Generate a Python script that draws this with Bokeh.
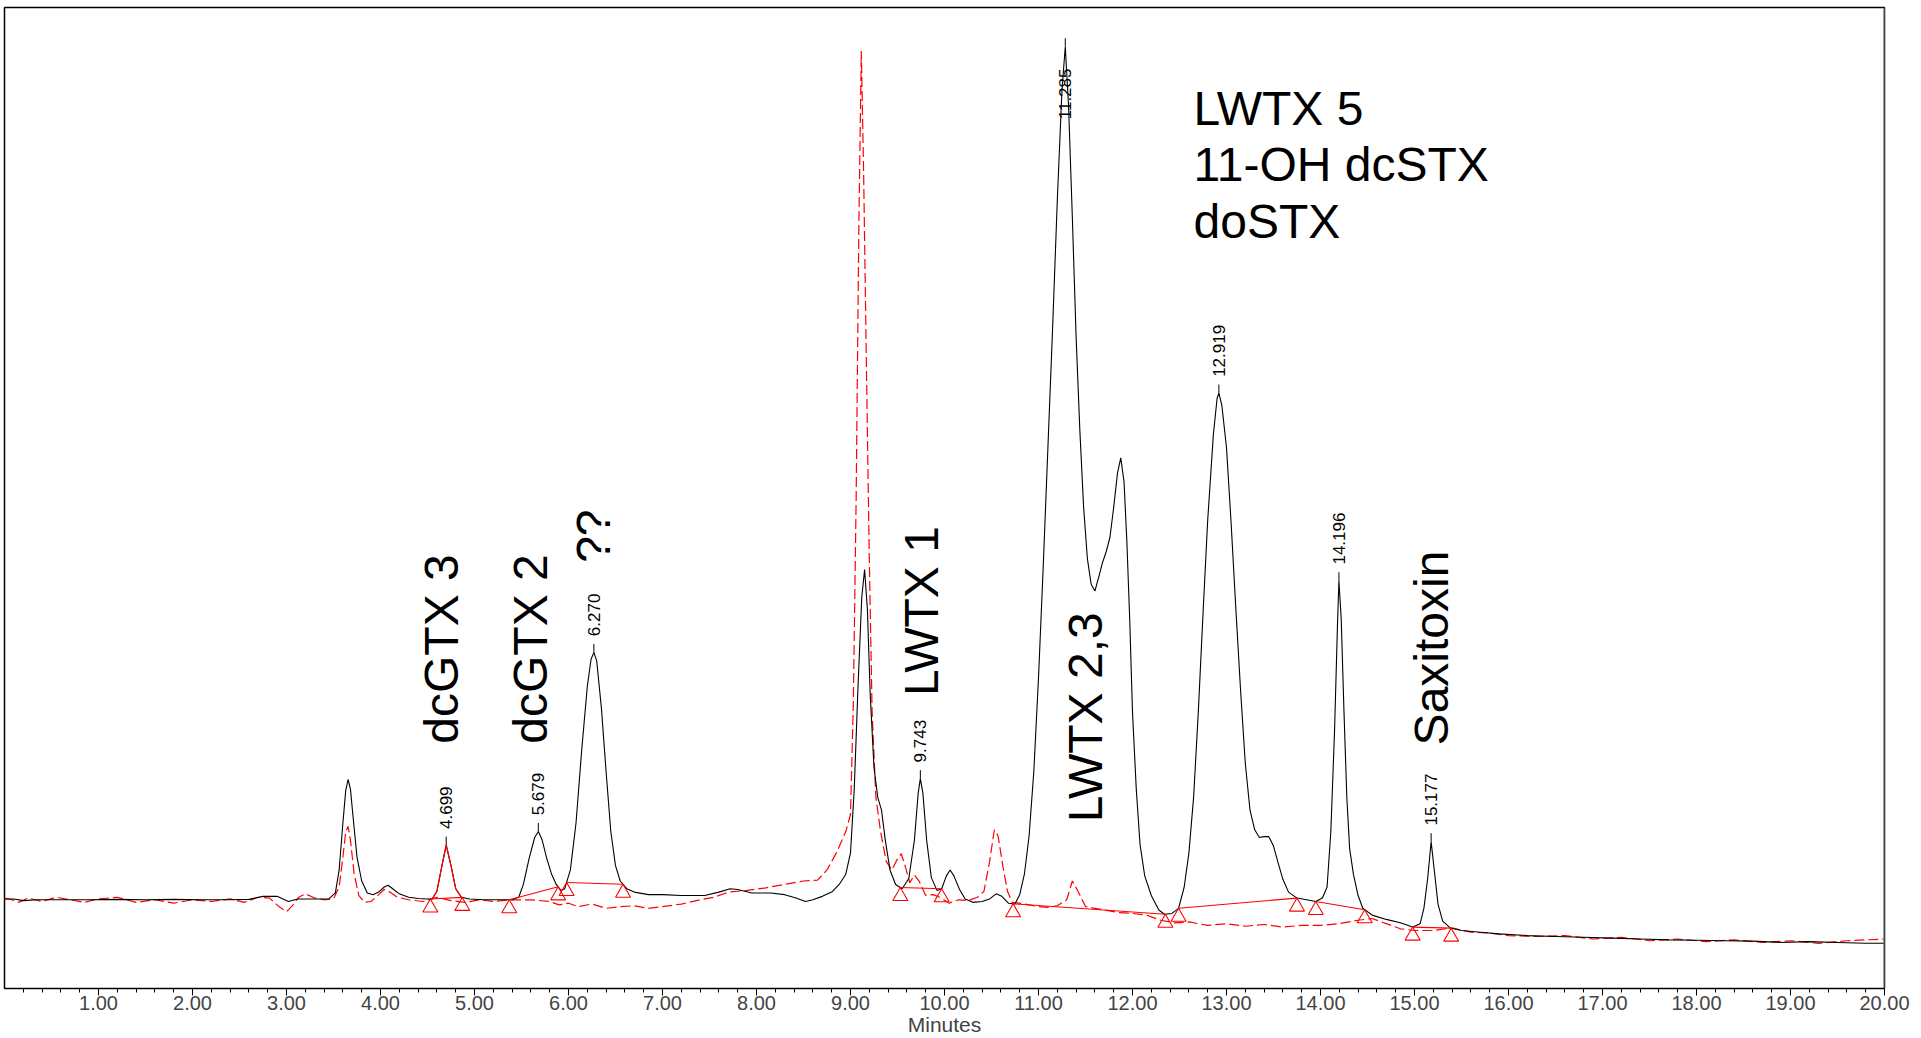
import math
import numpy as np
from bokeh.plotting import figure
from bokeh.models import Range1d, FixedTicker, PrintfTickFormatter, Span
from bokeh.core.properties import value
from bokeh.embed import file_html
from bokeh.resources import INLINE

# ---------------------------------------------------------------- data
# sample chromatogram (fluorescence response, arbitrary units) vs minutes
sample_time = [
    0.00, 0.10, 0.20, 0.35, 0.60, 0.90, 1.20, 1.50, 1.80, 2.10, 2.40, 2.60,
    2.75, 2.90, 3.02, 3.12, 3.30, 3.45, 3.52, 3.56, 3.60, 3.63, 3.655, 3.68,
    3.71, 3.75, 3.80, 3.86, 3.92, 3.98, 4.04, 4.08, 4.13, 4.20, 4.30, 4.40,
    4.50, 4.55, 4.60, 4.65, 4.699, 4.75, 4.80, 4.86, 4.95, 5.10, 5.25, 5.40,
    5.47, 5.52, 5.58, 5.64, 5.679, 5.72, 5.77, 5.82, 5.87, 5.92, 5.96, 6.02,
    6.08, 6.14, 6.20, 6.24, 6.270, 6.30, 6.35, 6.40, 6.45, 6.50, 6.55, 6.62,
    6.70, 6.85, 7.00, 7.20, 7.45, 7.60, 7.72, 7.80, 7.95, 8.15, 8.30, 8.42,
    8.52, 8.60, 8.70, 8.80, 8.88, 8.95, 9.00, 9.04, 9.08, 9.12, 9.15, 9.18,
    9.21, 9.25, 9.29, 9.33, 9.37, 9.42, 9.48, 9.55, 9.62, 9.68, 9.72, 9.743,
    9.77, 9.81, 9.86, 9.92, 9.97, 10.02, 10.06, 10.10, 10.16, 10.22, 10.30,
    10.40, 10.48, 10.55, 10.61, 10.68, 10.75, 10.80, 10.85, 10.90, 10.95,
    11.00, 11.05, 11.10, 11.15, 11.20, 11.25, 11.285, 11.32, 11.36, 11.40,
    11.44, 11.48, 11.52, 11.56, 11.60, 11.64, 11.68, 11.72, 11.76, 11.80,
    11.84, 11.875, 11.91, 11.94, 11.97, 12.00, 12.04, 12.08, 12.13, 12.20,
    12.28, 12.34, 12.42, 12.49, 12.55, 12.60, 12.65, 12.70, 12.75, 12.80,
    12.86, 12.90, 12.919, 12.95, 13.00, 13.05, 13.10, 13.15, 13.20, 13.25,
    13.30, 13.35, 13.40, 13.45, 13.50, 13.55, 13.60, 13.66, 13.75, 13.85,
    13.95, 14.02, 14.07, 14.11, 14.15, 14.18, 14.196, 14.22, 14.25, 14.28,
    14.31, 14.35, 14.40, 14.45, 14.55, 14.70, 14.85, 14.98, 15.06, 15.10,
    15.14, 15.177, 15.21, 15.25, 15.30, 15.38, 15.50, 15.70, 15.90, 16.20,
    16.50, 16.80, 17.10, 17.40, 17.70, 18.00, 18.30, 18.60, 18.90, 19.20,
    19.50, 19.80, 20.00,
]
sample_signal = [
    0.1, 0.1, -0.1, 0.0, 0.0, 0.0, 0.05, 0.0, 0.05, 0.0, 0.0, 0.05,
    0.4, 0.4, -0.2, 0.1, 0.1, 0.1, 0.8, 3.5, 9.0, 12.8, 14.1, 13.0,
    9.5, 5.0, 2.2, 0.8, 0.6, 0.9, 1.5, 1.7, 1.3, 0.7, 0.3, 0.15,
    0.1, 0.1, 1.0, 3.8, 6.4, 4.0, 1.3, 0.3, 0.1, 0.0, 0.0, 0.0,
    0.3, 1.8, 4.8, 7.3, 8.0, 7.0, 4.8, 3.0, 1.8, 1.1, 1.3, 3.5,
    9.0, 17.5, 25.0, 28.2, 29.0, 28.0, 22.5, 15.0, 8.0, 4.0, 2.2, 1.3,
    0.9, 0.6, 0.6, 0.5, 0.5, 0.9, 1.3, 1.2, 0.8, 0.8, 0.6, 0.2,
    -0.2, 0.0, 0.4, 0.9, 1.8, 3.0, 5.5, 13.0, 25.0, 35.5, 38.7, 34.0,
    24.0, 15.5, 12.0, 10.5, 7.0, 3.5, 1.8, 1.3, 2.5, 7.0, 12.5, 14.2,
    12.5, 7.0, 2.6, 1.1, 1.3, 2.8, 3.5, 2.8, 1.2, 0.1, -0.3,
    -0.2, 0.1, 0.7, 0.4, -0.4, -0.5, 0.6, 3.0, 7.5, 15.0,
    26.0, 39.0, 53.0, 67.0, 82.0, 95.0, 100.0, 93.0, 80.0, 66.0,
    55.0, 46.0, 40.0, 37.0, 36.2, 37.8, 39.5, 40.8, 42.5, 46.0,
    50.0, 51.8, 49.0, 42.0, 33.0, 22.0, 13.0, 6.5, 2.8, 0.5,
    -1.2, -1.7, -1.6, -1.0, 1.5, 5.5, 12.0, 22.0, 33.5, 44.5,
    54.5, 58.8, 59.4, 58.0, 53.0, 44.0, 34.0, 24.5, 16.0, 10.5,
    8.2, 7.3, 7.4, 7.4, 6.3, 4.3, 2.4, 0.9, 0.2, 0.0,
    -0.2, 0.2, 1.5, 8.0, 20.0, 32.0, 37.4, 33.0, 22.0, 12.0,
    6.0, 3.0, 0.5, -1.0, -1.8, -2.3, -2.7, -3.2, -2.8, -1.0,
    2.5, 6.8, 3.5, -0.5, -2.5, -3.3, -3.6, -3.8, -4.0, -4.2,
    -4.3, -4.4, -4.5, -4.6, -4.7, -4.75, -4.8, -4.85, -5.0, -4.9,
    -5.0, -5.1, -5.1,
]

# standard run overlaid for comparison (red, dashed)
standard_time = [
    0.00, 0.08, 0.15, 0.25, 0.40, 0.55, 0.70, 0.85, 1.00, 1.20, 1.40, 1.60,
    1.80, 2.00, 2.20, 2.40, 2.55, 2.70, 2.82, 2.92, 3.00, 3.07, 3.13, 3.20,
    3.30, 3.40, 3.50, 3.56, 3.60, 3.63, 3.655, 3.68, 3.72, 3.77, 3.83, 3.90,
    3.98, 4.04, 4.10, 4.18, 4.30, 4.45, 4.60, 4.75, 4.90, 5.05, 5.20, 5.40,
    5.60, 5.80, 5.90, 6.00, 6.10, 6.25, 6.40, 6.55, 6.70, 6.85, 7.00, 7.20,
    7.40, 7.55, 7.70, 7.90, 8.10, 8.30, 8.50, 8.65, 8.75, 8.85, 8.95, 9.00,
    9.03, 9.06, 9.09, 9.115, 9.14, 9.17, 9.20, 9.23, 9.27, 9.32, 9.38, 9.44,
    9.50, 9.54, 9.58, 9.63, 9.68, 9.73, 9.80, 9.88, 9.95, 10.05, 10.15, 10.25,
    10.35, 10.42, 10.48, 10.53, 10.57, 10.62, 10.67, 10.72, 10.80, 10.90,
    11.00, 11.10, 11.20, 11.30, 11.36, 11.42, 11.50, 11.60, 11.70, 11.85,
    12.00, 12.15, 12.30, 12.45, 12.60, 12.80, 13.00, 13.20, 13.40, 13.60,
    13.80, 14.00, 14.20, 14.40, 14.55, 14.70, 14.85, 15.00, 15.20, 15.40,
    15.60, 15.80, 16.00, 16.30, 16.60, 16.90, 17.20, 17.50, 17.80, 18.10,
    18.40, 18.70, 19.00, 19.30, 19.60, 19.80, 20.00,
]
standard_signal = [
    0.2, 0.0, -0.3, 0.2, -0.2, 0.3, 0.0, -0.3, 0.1, 0.3, -0.3, 0.0,
    -0.4, 0.0, -0.2, 0.1, -0.3, 0.3, 0.2, -0.8, -1.4, -0.6, 0.3, 0.7,
    0.2, 0.0, 0.1, 1.5, 5.0, 8.0, 8.6, 7.0, 3.0, 0.5, -0.3, -0.2,
    0.6, 1.2, 0.9, 0.3, 0.0, -0.2, 0.3, -0.1, -0.3, 0.0, -0.2, 0.0,
    0.0, -0.2, -0.6, -0.4, -0.8, -0.5, -1.0, -0.8, -0.7, -1.0, -0.8, -0.5,
    0.0, 0.3, 0.9, 1.1, 1.4, 1.8, 2.2, 2.3, 3.5, 5.5, 8.0, 10.0,
    23.0, 47.0, 80.0, 99.5, 85.0, 62.0, 40.0, 22.0, 12.0, 8.0, 4.5, 3.5,
    4.8, 5.4, 4.0, 2.0, 2.9, 2.2, 0.5, 0.6, 0.3, -0.4, 0.0, -0.1,
    0.3, 1.0, 4.5, 8.2, 7.5, 4.0, 1.0, -0.3, -0.4, -0.6,
    -0.8, -0.9, -0.7, 0.0, 2.2, 1.0, -0.8, -1.0, -1.2, -1.5,
    -1.6, -1.8, -2.4, -2.7, -2.6, -3.0, -2.8, -3.1, -2.9, -3.2,
    -3.0, -3.0, -2.8, -2.4, -2.2, -2.8, -3.4, -3.6, -3.6, -3.3,
    -3.8, -3.9, -4.2, -4.3, -4.2, -4.6, -4.4, -4.8, -4.6, -4.9,
    -4.7, -5.0, -4.8, -5.1, -4.8, -4.7, -4.6,
]

# integrated peaks (retention time in minutes)
peak_rt = [4.699, 5.679, 6.270, 9.743, 11.285, 12.919, 14.196, 15.177]

# integration baselines: start / end time of each drawn baseline
base_start = [4.53, 5.37, 5.98, 9.53, 10.73, 12.49, 13.95, 14.98]
base_end = [4.87, 5.89, 6.58, 9.97, 12.35, 13.75, 14.47, 15.39]

# compound assignments
compound_names = ["dcGTX 3", "dcGTX 2", "??", "LWTX 1", "LWTX 2,3", "Saxitoxin"]
compound_block = ["LWTX 5", "11-OH dcSTX", "doSTX"]

# ---------------------------------------------------------------- layout
T_MIN, T_MAX = 0.0, 20.0
Y_MIN, Y_MAX = -10.4, 104.6
FONT = "Liberation Sans"
RED = "#ff0000"
NAME_SIZE = "48px"

# where each compound name sits (time of the text, signal where the text starts)
name_t = [4.65, 5.60, 6.27, 9.76, 11.50, 15.18]
name_v = [18.3, 18.3, 39.5, 23.9, 9.1, 18.1]
block_t = 12.65
block_v_top = 92.8
block_line_step = 6.65

TICK_LEN = 1.0        # short marker above a peak apex
LABEL_GAP = 1.9       # distance from apex to start of retention-time label
LABEL_CEIL = 91.5     # labels never start higher than this
TRI_SIZE = 15

W, H = 1921, 1038
p = figure(
    width=W, height=H, output_backend="svg", toolbar_location=None,
    x_range=Range1d(T_MIN, T_MAX), y_range=Range1d(Y_MIN, Y_MAX),
    min_border_left=4, min_border_right=37, min_border_top=7, min_border_bottom=40,
    y_axis_location=None,
)
p.grid.visible = False
p.background_fill_color = "white"
p.border_fill_color = "white"
p.outline_line_color = "black"
p.outline_line_width = 1.5

ax = p.xaxis[0]
ax.ticker = FixedTicker(
    ticks=[float(k) for k in range(1, 21)],
    minor_ticks=[round(0.2 * k, 2) for k in range(1, 100) if k % 5],
)
ax.formatter = PrintfTickFormatter(format="%.2f")
ax.axis_label = "Minutes"
ax.axis_label_text_font = FONT
ax.axis_label_text_font_style = "normal"
ax.axis_label_text_font_size = "21px"
ax.axis_label_standoff = 0
ax.major_label_text_font = FONT
ax.major_label_text_font_size = "20px"
ax.major_label_standoff = 0
ax.major_tick_out = 7
ax.major_tick_in = 0
ax.minor_tick_out = 4
ax.minor_tick_in = 0
ax.axis_line_color = "black"
ax.major_tick_line_color = "black"
ax.minor_tick_line_color = "black"

# grey right-hand frame edge
p.add_layout(Span(location=T_MAX, dimension="height", line_color="#808080", line_width=2))

# traces
p.line(standard_time, standard_signal, line_color=RED, line_width=1.2, line_dash="10 4")
p.line(sample_time, sample_signal, line_color="black", line_width=1.1)

st = np.array(sample_time)
sv = np.array(sample_signal)

# first integrated peak drawn over in red
m = (st >= base_start[0]) & (st <= base_end[0])
seg_t = np.concatenate([[base_start[0]], st[m], [base_end[0]]])
seg_v = np.interp(seg_t, st, sv)
p.line(seg_t, seg_v, line_color=RED, line_width=1.2)

# integration baselines and their start/end markers
b0 = np.interp(base_start, st, sv)
b1 = np.interp(base_end, st, sv)
p.segment(x0=base_start, y0=b0, x1=base_end, y1=b1, line_color=RED, line_width=1.1)
px_per_unit = (H - 7 - 52) / (Y_MAX - Y_MIN)
tri_drop = (TRI_SIZE / 2) * math.sqrt(3) * 2 / 3 / px_per_unit
tri_t = list(base_start) + list(base_end)
tri_v = list(b0 - tri_drop) + list(b1 - tri_drop)
p.scatter(tri_t, tri_v, marker="triangle", size=TRI_SIZE, line_color=RED,
          fill_color=None, line_width=1.1)

# retention-time labels
apex = np.interp(peak_rt, st, sv)
p.segment(x0=peak_rt, y0=apex, x1=peak_rt, y1=apex + TICK_LEN, line_color="black", line_width=1)
lab_y = np.minimum(apex + LABEL_GAP, LABEL_CEIL)
p.text(x=peak_rt, y=lab_y, text=[f"{r:.3f}" for r in peak_rt], angle=math.pi / 2,
       text_align="left", text_baseline="middle", text_font=value(FONT),
       text_font_size=value("17px"), text_color="black")

# compound names
p.text(x=name_t, y=name_v, text=compound_names, angle=math.pi / 2,
       text_align="left", text_baseline="alphabetic", text_font=value(FONT),
       text_font_size=value(NAME_SIZE), text_color="black")
p.text(x=[block_t] * len(compound_block),
       y=[block_v_top - i * block_line_step for i in range(len(compound_block))],
       text=compound_block, text_align="left", text_baseline="alphabetic",
       text_font=value(FONT), text_font_size=value(NAME_SIZE), text_color="black")

open("out.html", "w").write(file_html(p, INLINE))
